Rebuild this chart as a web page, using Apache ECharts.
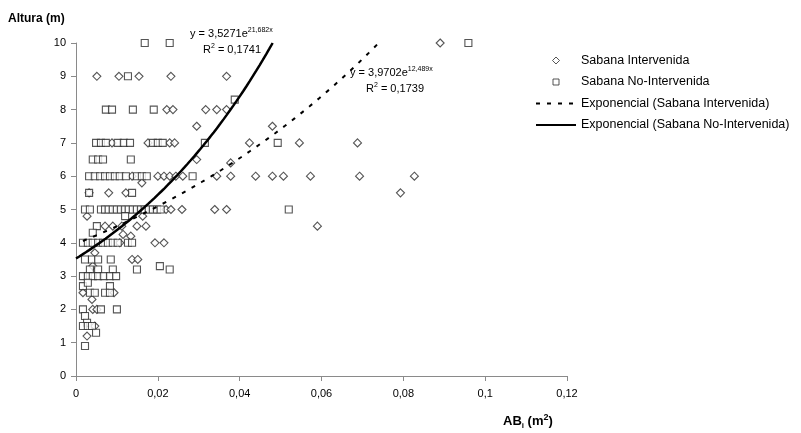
<!DOCTYPE html>
<html>
<head>
<meta charset="utf-8">
<script src="https://cdn.jsdelivr.net/npm/echarts@6/dist/echarts.min.js"></script>
<style>
  html, body { margin: 0; padding: 0; background: #fff; }
  #chart { width: 801px; height: 433px; }
</style>
</head>
<body>
<div id="chart"></div>
<script>
const FONT = "'Liberation Sans', Arial, sans-serif";

// Sabana Intervenida: [AB_i (m2), Altura (m)]
const intervenida = [
  [0.089, 10],
  [0.0051, 9], [0.0105, 9], [0.0154, 9], [0.0232, 9], [0.0368, 9],
  [0.0222, 8], [0.0237, 8], [0.0317, 8], [0.0344, 8], [0.0368, 8],
  [0.0295, 7.5], [0.048, 7.5],
  [0.0088, 7], [0.0176, 7], [0.0229, 7], [0.0241, 7], [0.0424, 7], [0.0546, 7], [0.0688, 7],
  [0.0295, 6.5], [0.0378, 6.4],
  [0.0137, 6], [0.02, 6], [0.0215, 6], [0.0229, 6], [0.0244, 6], [0.0261, 6], [0.0344, 6],
  [0.0378, 6], [0.0439, 6], [0.048, 6], [0.0507, 6], [0.0573, 6], [0.0693, 6], [0.0827, 6],
  [0.0161, 5.8],
  [0.0032, 5.5], [0.008, 5.5], [0.0122, 5.5], [0.0793, 5.5],
  [0.022, 5], [0.0232, 5], [0.0259, 5], [0.0339, 5], [0.0368, 5],
  [0.0027, 4.8], [0.0163, 4.8],
  [0.0071, 4.5], [0.009, 4.5], [0.0112, 4.5], [0.0149, 4.5], [0.0171, 4.5], [0.059, 4.5],
  [0.0115, 4.25], [0.0134, 4.2],
  [0.0107, 4], [0.0193, 4], [0.0215, 4],
  [0.0046, 3.7], [0.0137, 3.5], [0.0151, 3.5], [0.0041, 3.3],
  [0.0017, 2.5], [0.0093, 2.5], [0.0039, 2.3],
  [0.0041, 2], [0.0051, 2], [0.0046, 1.5], [0.0027, 1.2]
];

// Sabana No-Intervenida: [AB_i (m2), Altura (m)]
const noIntervenida = [
  [0.0168, 10], [0.0229, 10], [0.0959, 10],
  [0.0127, 9], [0.0388, 8.3],
  [0.0073, 8], [0.0088, 8], [0.0139, 8], [0.019, 8],
  [0.0049, 7], [0.0061, 7], [0.0073, 7], [0.0102, 7], [0.0117, 7], [0.0132, 7],
  [0.0188, 7], [0.02, 7], [0.0212, 7], [0.0315, 7], [0.0493, 7],
  [0.0041, 6.5], [0.0054, 6.5], [0.0066, 6.5], [0.0134, 6.5],
  [0.0032, 6], [0.0046, 6], [0.0059, 6], [0.0071, 6], [0.0083, 6], [0.0095, 6],
  [0.0107, 6], [0.0122, 6], [0.0149, 6], [0.0161, 6], [0.0173, 6], [0.0285, 6],
  [0.0032, 5.5], [0.0137, 5.5],
  [0.0022, 5], [0.0034, 5], [0.0061, 5], [0.0071, 5], [0.008, 5], [0.009, 5], [0.01, 5],
  [0.011, 5], [0.012, 5], [0.0129, 5], [0.0139, 5], [0.0149, 5], [0.0159, 5], [0.0168, 5],
  [0.0178, 5], [0.0188, 5], [0.0198, 5], [0.0207, 5], [0.052, 5],
  [0.012, 4.8], [0.0051, 4.5], [0.0041, 4.3],
  [0.0017, 4], [0.0029, 4], [0.0041, 4], [0.0054, 4], [0.0066, 4], [0.0078, 4],
  [0.009, 4], [0.0102, 4], [0.0127, 4], [0.0137, 4],
  [0.0022, 3.5], [0.0039, 3.5], [0.0054, 3.5], [0.0085, 3.5],
  [0.0034, 3.2], [0.0054, 3.2], [0.009, 3.2], [0.0149, 3.2], [0.0229, 3.2], [0.0205, 3.3],
  [0.0017, 3], [0.0029, 3], [0.0041, 3], [0.0054, 3], [0.0068, 3], [0.0083, 3], [0.0098, 3],
  [0.0017, 2.7], [0.0083, 2.7], [0.0029, 2.8],
  [0.0034, 2.5], [0.0046, 2.5], [0.0071, 2.5], [0.0083, 2.5],
  [0.0017, 2], [0.0061, 2], [0.01, 2],
  [0.0022, 1.8], [0.0027, 1.6],
  [0.0017, 1.5], [0.0029, 1.5], [0.0039, 1.5],
  [0.0049, 1.3], [0.0022, 0.9]
];

// Exponential trendlines as printed on the chart: y = a * e^(b x)
const trendInterv = { a: 3.9702, b: 12.489, xStart: 0.0017 };
const trendNoInterv = { a: 3.5271, b: 21.682, xStart: 0 };
const Y_MAX = 10;

const seriesNames = [
  "Sabana Intervenida",
  "Sabana No-Intervenida",
  "Exponencial (Sabana Intervenida)",
  "Exponencial (Sabana No-Intervenida)"
];

function trendPoints(t) {
  // stop where the curve leaves the plot (y = 10)
  const xEnd = Math.log(Y_MAX / t.a) / t.b;
  const pts = [];
  const n = 60;
  for (let i = 0; i <= n; i++) {
    const x = t.xStart + (xEnd - t.xStart) * i / n;
    pts.push([x, t.a * Math.exp(t.b * x)]);
  }
  return pts;
}

// legend icons: the two moveTo's span the whole 40x8 icon box so the
// small marker stays centred and is not stretched
const LEGEND_DIAMOND = "path://M0,0M40,8M16.5,4L20,0.5L23.5,4L20,7.5Z";
const LEGEND_SQUARE = "path://M0,0M40,8M17,1L23,1L23,7L17,7Z";

const chart = echarts.init(document.getElementById("chart"));

const markerStyle = {
  color: "#ffffff",
  borderColor: "#2a2a2a",
  borderWidth: 1.1
};
const legendMarkerStyle = {
  color: "#ffffff",
  borderColor: "#2a2a2a",
  borderWidth: 1
};

// rich text pieces for the equations (superscripts)
const eqRich = {
  n: { font: "11px " + FONT, lineHeight: 14 },
  s: { font: "7px " + FONT, verticalAlign: "top" }
};

chart.setOption({
  animation: false,
  textStyle: { fontFamily: FONT },
  grid: { left: 76, right: 234, top: 43, bottom: 57 },
  xAxis: {
    type: "value",
    min: 0,
    max: 0.12,
    interval: 0.02,
    splitLine: { show: false },
    axisLine: { lineStyle: { color: "#8a8a8a", width: 1 } },
    axisTick: { show: true, length: 5, lineStyle: { color: "#8a8a8a" } },
    axisLabel: {
      color: "#000",
      fontSize: 11,
      fontFamily: FONT,
      margin: 12,
      formatter: v => String(v).replace(".", ",")
    }
  },
  yAxis: {
    type: "value",
    min: 0,
    max: 10,
    interval: 1,
    splitLine: { show: false },
    axisLine: { show: true, lineStyle: { color: "#8a8a8a", width: 1 } },
    axisTick: { show: true, length: 5, lineStyle: { color: "#8a8a8a" } },
    axisLabel: { color: "#000", fontSize: 11, fontFamily: FONT, margin: 10 }
  },
  legend: {
    orient: "vertical",
    left: 530,
    top: 49,
    itemWidth: 40,
    itemHeight: 8,
    itemGap: 8.5,
    textStyle: { fontSize: 12.5, color: "#000", fontFamily: FONT },
    data: [
      { name: seriesNames[0], icon: LEGEND_DIAMOND, itemStyle: legendMarkerStyle },
      { name: seriesNames[1], icon: LEGEND_SQUARE, itemStyle: legendMarkerStyle },
      { name: seriesNames[2], itemStyle: { opacity: 0 } },
      { name: seriesNames[3], itemStyle: { opacity: 0 } }
    ]
  },
  graphic: [
    {
      type: "text",
      left: 8,
      top: 13,
      style: { text: "Altura (m)", font: "bold 12px " + FONT, fill: "#000" }
    },
    {
      type: "text",
      left: 503,
      top: 413,
      style: {
        text: "{n|AB}{sub|i}{n| (m}{sup|2}{n|)}",
        fill: "#000",
        rich: {
          n: { font: "bold 13px " + FONT, lineHeight: 17 },
          sub: { font: "bold 8px " + FONT, verticalAlign: "bottom" },
          sup: { font: "bold 9px " + FONT, verticalAlign: "top" }
        }
      }
    },
    {
      type: "text",
      left: 190,
      top: 27,
      style: { text: "{n|y = 3,5271e}{s|21,682x}", fill: "#000", rich: eqRich }
    },
    {
      type: "text",
      left: 203,
      top: 43,
      style: { text: "{n|R}{s|2}{n| = 0,1741}", fill: "#000", rich: eqRich }
    },
    {
      type: "text",
      left: 350,
      top: 66,
      style: { text: "{n|y = 3,9702e}{s|12,489x}", fill: "#000", rich: eqRich }
    },
    {
      type: "text",
      left: 366,
      top: 82,
      style: { text: "{n|R}{s|2}{n| = 0,1739}", fill: "#000", rich: eqRich }
    }
  ],
  series: [
    {
      name: seriesNames[0],
      type: "scatter",
      symbol: "diamond",
      symbolSize: 8,
      itemStyle: markerStyle,
      data: intervenida,
      z: 2
    },
    {
      name: seriesNames[1],
      type: "scatter",
      symbol: "rect",
      symbolSize: 7,
      itemStyle: markerStyle,
      data: noIntervenida,
      z: 2
    },
    {
      name: seriesNames[2],
      type: "line",
      showSymbol: false,
      symbol: "none",
      lineStyle: { color: "#000", width: 2, type: [4, 7] },
      itemStyle: { color: "#000" },
      data: trendPoints(trendInterv),
      z: 3
    },
    {
      name: seriesNames[3],
      type: "line",
      showSymbol: false,
      symbol: "none",
      lineStyle: { color: "#000", width: 2.5 },
      itemStyle: { color: "#000" },
      data: trendPoints(trendNoInterv),
      z: 3
    }
  ]
});
</script>
</body>
</html>
